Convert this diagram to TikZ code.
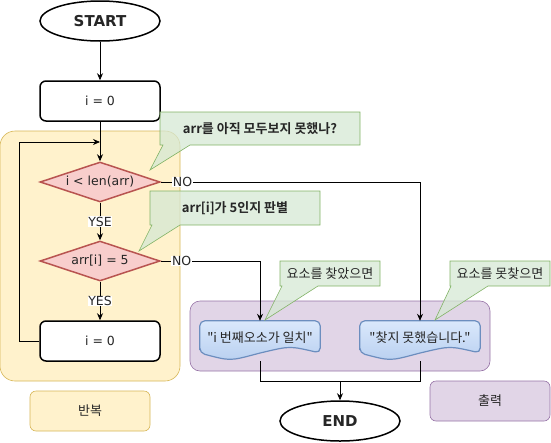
\documentclass[tikz,border=0pt]{standalone}
\usepackage{fontspec}
\setmainfont{DejaVu Sans}
\newfontfamily\kr{Noto Sans CJK KR}[BoldFont={Noto Sans CJK KR Bold}]
\usetikzlibrary{shapes.geometric, arrows.meta, positioning, calc}

\definecolor{ylwfill}{HTML}{FFF2CC}
\definecolor{ylwline}{HTML}{D6B656}
\definecolor{redfill}{HTML}{F8CECC}
\definecolor{redline}{HTML}{B85450}
\definecolor{grnfill}{HTML}{D5E8D4}
\definecolor{grnline}{HTML}{82B366}
\definecolor{purfill}{HTML}{E1D5E7}
\definecolor{purline}{HTML}{9673A6}
\definecolor{bluetop}{HTML}{DAE8FC}
\definecolor{bluebot}{HTML}{B9D0F0}
\definecolor{blueline}{HTML}{6C8EBF}

\tikzset{
  term/.style={ellipse, draw, line width=1.5pt, fill=white, minimum width=120pt, minimum height=40pt, font=\bfseries\fontsize{15}{18}\selectfont},
  procbox/.style={rectangle, rounded corners=6pt, draw, line width=1.5pt, fill=white, minimum width=120pt, minimum height=40pt},
  decision/.style={diamond, aspect=3, inner sep=0pt, draw=redline, fill=redfill, line width=1.5pt, minimum width=120pt, minimum height=40pt},
  flow/.style={-{Stealth[length=7pt,width=6pt]}, line width=0.8pt},
  lbl/.style={fill=white, inner sep=0.5pt},
  grp/.style={rounded corners=15pt, line width=0.6pt},
  korean/.style={font=\kr\fontsize{13}{16}\selectfont},
  koreanbf/.style={font=\kr\bfseries\fontsize{13}{16}\selectfont},
  tagbox/.style={rectangle, rounded corners=6pt, line width=0.6pt, minimum width=120pt, minimum height=40pt, korean},
  note/.style={fill=grnfill, draw=grnline, fill opacity=0.75, line width=0.6pt},
  doc/.style={rectangle, minimum width=120pt, minimum height=40pt},
  docpath/.style={draw=blueline, line width=1.2pt, top color=bluetop, bottom color=bluebot, rounded corners=5pt}
}

% document shape with wavy bottom
\newcommand\docwave[1]{%
  \path[docpath] ($(#1.west)+(0,12)$) -- (#1.north west) -- (#1.north east)
    -- ($(#1.east)+(0,12)$) .. controls ($(#1.center)+(30,5)$) .. ($(#1.center)+(0,12)$)
    .. controls ($(#1.center)+(-30,20)$) .. ($(#1.west)+(0,12)$) -- cycle;}

\begin{document}
\begin{tikzpicture}[x=1pt, y=-1pt, font=\fontsize{12.5}{15}\selectfont, text=black!85]
\useasboundingbox (0,0) rectangle (551,442);

%groups
\draw[grp, fill=ylwfill, draw=ylwline] (0,131) rectangle (180,381);
\draw[grp, rounded corners=10pt, fill=purfill, draw=purline] (190,301) rectangle (490,371);
\node[tagbox, fill=ylwfill, draw=ylwline] (rep) at (90,411) {반복};
\node[tagbox, fill=purfill, draw=purline] (out) at (490,401) {출력};

%flow nodes
\node[term] (start) at (100,21) {START};
\node[procbox] (init) at (100,101) {i = 0};
\node[decision] (cond) at (100,182) {i < len(arr)};
\node[decision] (chk) at (100,261) {arr[i] = 5};
\node[procbox] (incr) at (100,341) {i = 0};
\node[term] (end) at (340,421) {END};

%output documents
\node[doc] (d1) at (260,341) {};
\node[doc] (d2) at (420,341) {};
\docwave{d1}
\docwave{d2}
\node[korean] (d1txt) at (260,338) {"i 번째오소가 일치"};
\node[korean] (d2txt) at (420,338) {"찾지 못했습니다."};

%connections
\coordinate (lp) at (100,142);
\coordinate (mrg) at (340,381);
\draw[flow] (start) to (init);
\draw[flow] (init) to (cond);
\draw[flow] (cond) to node[lbl] {YSE} (chk);
\draw[flow] (chk) to node[lbl] {YES} (incr);
\draw[flow] (incr.west) -- ++(-20,0) |- (lp);
\draw[flow] (cond.east) -| node[lbl, pos=0.042] {NO} (d2.north);
\draw[flow] (chk.east) -| node[lbl, pos=0.105] {NO} (d1.north);
\draw[line width=0.8pt] (d1.south) |- (mrg);
\draw[line width=0.8pt] (d2.south) |- (mrg);
\draw[flow] (mrg) to (end);

%callouts
\draw[note] (160,112) -- (360,112) -- (360,145) -- (190,145) -- (150,170) -- (163,145) -- (160,145) -- cycle;
\node[koreanbf] (n1) at (260,128.5) {arr를 아직 모두보지 못했나?};
\draw[note] (150,191) -- (320,191) -- (320,225) -- (180,225) -- (139,251) -- (152,225) -- (150,225) -- cycle;
\node[koreanbf] (n2) at (235,208) {arr[i]가 5인지 판별};
\draw[note] (280,261) -- (380,261) -- (380,286) -- (318,286) -- (265,320) -- (282,286) -- (280,286) -- cycle;
\node[korean] (n3) at (330,273.5) {요소를 찾았으면};
\draw[note] (450,261) -- (550,261) -- (550,286) -- (488,286) -- (435,320) -- (451,286) -- (450,286) -- cycle;
\node[korean] (n4) at (500,273.5) {요소를 못찾으면};
\end{tikzpicture}
\end{document}
